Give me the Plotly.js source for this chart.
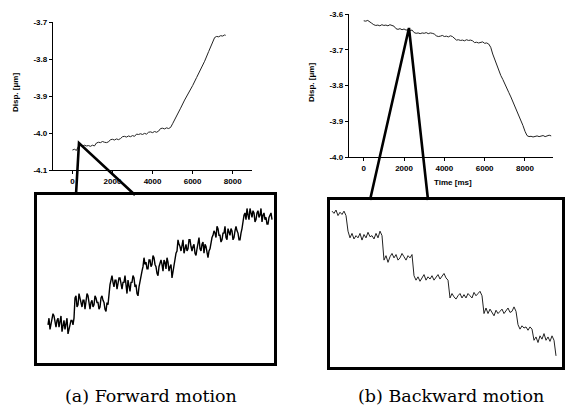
<!DOCTYPE html>
<html>
<head>
<meta charset="utf-8">
<script src="https://cdn.plot.ly/plotly-3.0.1.min.js"></script>
<style>html,body{margin:0;padding:0;background:#fff;}#chart{width:567px;height:416px;}</style>
</head>
<body>
<div id="chart"></div>
<script>
// ---------- DATA ----------
// (a) forward motion, overview: time [ms], displacement [um]
const fwdTime = [0,100,200,300,400,500,600,700,800,900,1000,1100,1200,1300,1400,1500,1600,1700,1800,1900,2000,2100,2200,2300,2400,2500,2600,2700,2800,2900,3000,3100,3200,3300,3400,3500,3600,3700,3800,3900,4000,4100,4200,4300,4400,4500,4600,4700,4800,4900,5000,5200,5400,5600,5800,6000,6200,6400,6600,6800,7000,7100,7200,7300,7400,7500,7600,7650];
const fwdDisp = [-4.046,-4.044,-4.047,-4.036,-4.034,-4.036,-4.033,-4.035,-4.034,-4.036,-4.033,-4.035,-4.027,-4.025,-4.026,-4.023,-4.025,-4.026,-4.024,-4.018,-4.017,-4.019,-4.016,-4.018,-4.015,-4.010,-4.009,-4.011,-4.008,-4.010,-4.007,-4.009,-4.003,-4.004,-4.002,-4.004,-4.001,-4.003,-3.998,-3.997,-3.999,-3.996,-3.998,-3.995,-3.988,-3.987,-3.989,-3.986,-3.988,-3.985,-3.975,-3.952,-3.933,-3.911,-3.893,-3.872,-3.850,-3.830,-3.806,-3.780,-3.752,-3.742,-3.739,-3.740,-3.737,-3.738,-3.735,-3.736];

// (b) backward motion, overview
const bwdTime = [0,100,200,300,400,500,600,700,800,900,1000,1100,1200,1300,1400,1500,1600,1700,1800,1900,2000,2100,2200,2300,2400,2500,2600,2700,2800,2900,3000,3100,3200,3300,3400,3500,3600,3700,3800,3900,4000,4100,4200,4300,4400,4500,4600,4700,4800,4900,5000,5100,5200,5300,5400,5500,5600,5700,5800,5900,6000,6100,6200,6300,6400,6500,6600,6700,6800,6900,7000,7100,7200,7300,7400,7500,7600,7700,7800,7900,8000,8100,8200,8300,8400,8500,8600,8700,8800,8900,9000,9100,9200,9300];
const bwdDisp = [-3.619,-3.620,-3.618,-3.621,-3.626,-3.630,-3.632,-3.631,-3.633,-3.630,-3.632,-3.631,-3.633,-3.630,-3.632,-3.634,-3.641,-3.643,-3.641,-3.644,-3.642,-3.645,-3.644,-3.646,-3.645,-3.652,-3.654,-3.653,-3.655,-3.653,-3.654,-3.652,-3.655,-3.653,-3.654,-3.656,-3.661,-3.663,-3.662,-3.660,-3.663,-3.662,-3.664,-3.661,-3.663,-3.668,-3.673,-3.672,-3.674,-3.673,-3.675,-3.672,-3.674,-3.673,-3.675,-3.680,-3.679,-3.681,-3.680,-3.678,-3.682,-3.681,-3.684,-3.693,-3.712,-3.728,-3.745,-3.758,-3.772,-3.783,-3.797,-3.806,-3.820,-3.832,-3.845,-3.858,-3.870,-3.884,-3.898,-3.912,-3.928,-3.940,-3.943,-3.942,-3.944,-3.943,-3.941,-3.943,-3.942,-3.940,-3.943,-3.941,-3.939,-3.941];

// (a) zoomed inset: time [ms], displacement [nm]
const fwdZoomTime = [55,60,65,70,75,80,85,90,95,100,105,110,115,120,125,130,135,140,145,150,155,160,165,170,175,180,185,
  190,195,200,205,210,215,220,225,230,235,240,245,250,255,260,265,270,275,280,285,290,295,300,305,310,315,320,325,330,335,340,345,350,355,
  365,370,375,380,385,390,395,400,405,410,415,420,425,430,435,440,445,450,455,460,465,470,475,480,485,490,495,500,505,510,515,
  525,530,535,540,545,550,555,560,565,570,575,580,585,590,595,600,605,610,615,620,625,630,635,640,645,650,655,660,665,670,675,680,685,
  695,700,705,710,715,720,725,730,735,740,745,750,755,760,765,770,775,780,785,790,795,800,805,810,815,820,825,830,835,840,845,850,855,860,865,
  875,880,885,890,895,900,905,910,915,920,925,930,935,940,945,950,955,960,965,970,975,980,985,990,995,1000,1005,1010,1015,1020,1025,
  1035,1040,1045,1050,1055,1060,1065,1070,1075,1080,1085,1090,1095,1100,1105,1110,1115,1120,1125,1130,1135,1140,1145,1150,1155,1160,1165,1170,1175];
const fwdZoomDisp = [17,20,15,18,19,22,21,17,16,19,20,16,18,21,14,17,19,15,17,20,13,15,16,19,19,17,20,
  29,30,25,26,31,29,26,25,28,28,24,27,31,30,26,24,27,28,25,26,30,29,27,27,24,25,29,30,28,27,24,23,27,26,
  35,37,39,36,34,37,37,33,35,38,38,34,33,36,36,39,34,31,37,35,32,36,36,39,38,34,35,31,30,34,37,
  41,43,47,44,45,42,42,46,46,43,44,48,47,44,43,40,39,43,45,46,44,41,46,45,42,47,45,41,43,44,38,41,44,
  49,50,55,53,52,50,54,55,49,52,53,50,51,55,55,52,50,52,53,49,48,51,54,56,51,50,53,54,49,53,52,48,47,50,51,
  56,57,59,58,56,61,60,57,57,54,55,58,58,61,56,55,60,58,57,60,59,55,56,59,61,59,58,55,55,58,60,
  66,67,64,69,66,64,69,67,65,68,67,63,64,67,68,65,66,69,63,66,67,64,65,62,62,65,66,67,64];

// (b) zoomed inset
const bwdZoomTime = [10,20,30,40,50,60,70,80,
  90,100,110,120,130,140,150,160,170,180,190,200,210,220,230,240,250,260,
  270,280,290,300,310,320,330,340,350,360,370,380,390,400,410,
  420,430,440,450,460,470,480,490,500,510,520,530,540,550,560,570,580,590,
  600,610,620,630,640,650,660,670,680,690,700,710,720,730,740,750,760,
  770,780,790,800,810,820,830,840,850,860,870,880,890,900,910,920,930,
  940,950,960,970,980,990,1000,1010,
  1020,1030,1040,1050,1060,1070,1080,1090,1100,1110,1120,1125,1130];
const bwdZoomDisp = [70,69,70.5,68,69.5,68.5,70,68,
  61,58,60,57.5,59,58,60,57,59.5,58,60.5,58.5,59,57.5,60,58,61,59,
  48,50,47,49.5,51,49,50.5,48,49,51,49.5,48,50,49,50.5,
  41,39,40.5,38.5,40,41.5,39,40.5,39.5,41,39,40,41.5,39.5,41,42,40,39,
  31,33,31.5,30.5,32,33,31,32.5,31,33,32,31,33.5,32,33,34,32,
  24,26.5,24,26,24.5,23,25.5,24,25,26,24,25.5,26.5,24.5,25,27,25,
  19,17,18.5,17.5,18,16.5,18,17,
  12,13.5,11,14,12.5,15,12,13.5,11.5,14,12,9,5];

// tick labels
const timeTicks = [0,2000,4000,6000,8000];
const timeTickText = ['0','2000','4000','6000','8000'];
const fwdYTicks = [-4.1,-4.0,-3.9,-3.8,-3.7];
const fwdYTickText = ['-4.1','-4.0','-3.9','-3.8','-3.7'];
const bwdYTicks = [-4.0,-3.9,-3.8,-3.7,-3.6];
const bwdYTickText = ['-4.0','-3.9','-3.8','-3.7','-3.6'];

// ---------- LAYOUT ----------
const W = 567, H = 416;
const px = x => x / W;
const py = y => 1 - y / H;
const sans = 'Liberation Sans';
const serif = 'DejaVu Serif';
const tickFont = {family: sans, size: 8, color: '#000', weight: 'bold'};

function mainX(dom, range) {
  return {domain: [px(dom[0]), px(dom[1])], range: range, tickmode: 'array', tickvals: timeTicks, ticktext: timeTickText,
    ticks: 'outside', ticklen: 3, tickwidth: 1, tickcolor: '#000', showline: true, linecolor: '#000', linewidth: 1.2,
    showgrid: false, zeroline: false, tickfont: tickFont, fixedrange: true};
}
function mainY(dom, range, vals, text) {
  return {domain: [py(dom[1]), py(dom[0])], range: range, tickmode: 'array', tickvals: vals, ticktext: text,
    ticks: 'outside', ticklen: 3, tickwidth: 1, tickcolor: '#000', showline: true, linecolor: '#000', linewidth: 1.2,
    showgrid: false, zeroline: false, tickfont: tickFont, fixedrange: true};
}
function insetAxis(dom, range, isY) {
  return {domain: isY ? [py(dom[1]), py(dom[0])] : [px(dom[0]), px(dom[1])], range: range,
    showline: true, mirror: true, linecolor: '#000', linewidth: 2.6, ticks: '', showticklabels: false,
    showgrid: false, zeroline: false, fixedrange: true};
}

const traces = [
  {x: fwdTime, y: fwdDisp, xaxis: 'x', yaxis: 'y', type: 'scatter', mode: 'lines', line: {color: '#222', width: 1}},
  {x: bwdTime, y: bwdDisp, xaxis: 'x2', yaxis: 'y2', type: 'scatter', mode: 'lines', line: {color: '#222', width: 1}},
  {x: fwdZoomTime, y: fwdZoomDisp, xaxis: 'x3', yaxis: 'y3', type: 'scatter', mode: 'lines', line: {color: '#000', width: 1.4}},
  {x: bwdZoomTime, y: bwdZoomDisp, xaxis: 'x4', yaxis: 'y4', type: 'scatter', mode: 'lines', line: {color: '#222', width: 1}}
];

const pathOf = pts => pts.map((p, i) => (i ? 'L' : 'M') + px(p[0]).toFixed(4) + ',' + py(p[1]).toFixed(4)).join(' ');

function label(text, x, y, size, family, bold, angle) {
  return {text: text, xref: 'paper', yref: 'paper', x: px(x), y: py(y), xanchor: 'center', yanchor: 'middle',
    textangle: angle || 0, showarrow: false, font: {family: family, size: size, color: '#000', weight: bold ? 'bold' : 'normal'}};
}

const layout = {
  width: W, height: H, margin: {l: 0, r: 0, t: 0, b: 0},
  paper_bgcolor: '#fff', plot_bgcolor: 'rgba(0,0,0,0)', showlegend: false,
  xaxis: Object.assign(mainX([53, 252], [-970, 8965]), {anchor: 'y'}),
  yaxis: Object.assign(mainY([22, 170], [-4.1, -3.7], fwdYTicks, fwdYTickText), {anchor: 'x'}),
  xaxis2: Object.assign(mainX([349, 553], [-730, 9390]), {anchor: 'y2'}),
  yaxis2: Object.assign(mainY([14, 157], [-4.0, -3.6], bwdYTicks, bwdYTickText), {anchor: 'x2'}),
  xaxis3: Object.assign(insetAxis([37, 274], [0, 1185], false), {anchor: 'y3'}),
  yaxis3: Object.assign(insetAxis([195, 363], [0, 75], true), {anchor: 'x3'}),
  xaxis4: Object.assign(insetAxis([330, 562], [0, 1160], false), {anchor: 'y4'}),
  yaxis4: Object.assign(insetAxis([200, 367], [0, 75], true), {anchor: 'x4'}),
  shapes: [
    {type: 'path', xref: 'paper', yref: 'paper', path: pathOf([[76, 195], [79, 143], [135, 195]]),
      line: {color: '#000', width: 2.6}, layer: 'above'},
    {type: 'path', xref: 'paper', yref: 'paper', path: pathOf([[370, 200], [409, 28], [428, 200]]),
      line: {color: '#000', width: 2.6}, layer: 'above'}
  ],
  annotations: [
    label('Disp. [μm]', 15, 93, 8, sans, true, -90),
    label('Disp. [μm]', 311, 83, 8, sans, true, -90),
    label('Time [ms]', 453, 182, 8, sans, true, 0),
    label('(a) Forward motion', 151, 396, 17.5, serif, false, 0),
    label('(b) Backward motion', 451, 396, 17.5, serif, false, 0)
  ]
};

Plotly.newPlot('chart', traces, layout, {staticPlot: true, displayModeBar: false});
</script>
</body>
</html>
